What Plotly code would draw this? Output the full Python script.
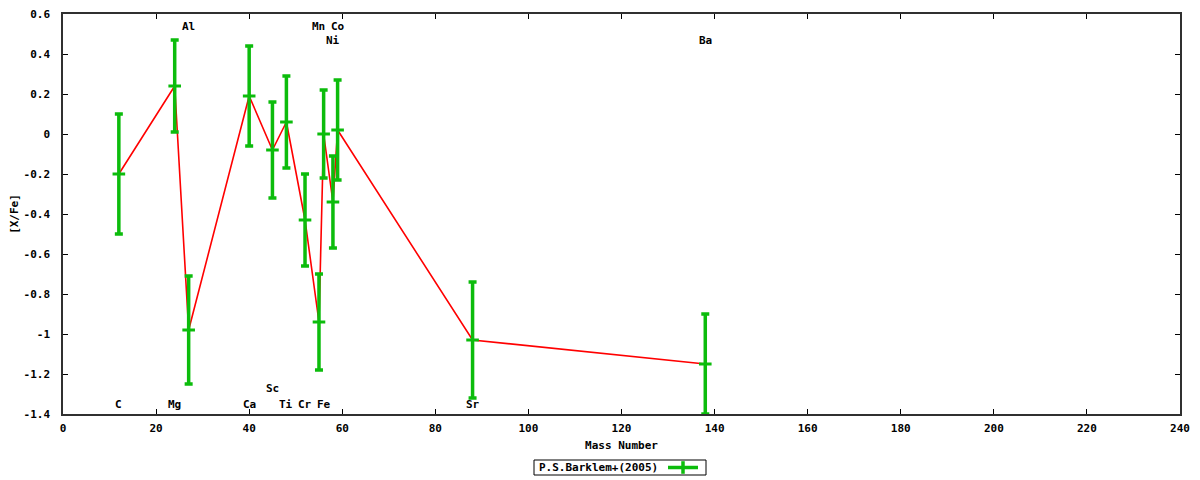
import plotly.graph_objects as go

# abundance ratios vs mass number
elements = ["C", "Mg", "Al", "Ca", "Sc", "Ti", "Cr", "Mn", "Fe", "Ni", "Co", "Sr", "Ba"]
mass = [12, 24, 27, 40, 45, 48, 52, 55, 56, 58, 59, 88, 138]
xfe = [-0.20, 0.24, -0.98, 0.19, -0.08, 0.06, -0.43, -0.94, 0.00, -0.34, 0.02, -1.03, -1.15]
err = [0.30, 0.23, 0.27, 0.25, 0.24, 0.23, 0.23, 0.24, 0.22, 0.23, 0.25, 0.29, 0.25]

# where the element names are written
label_y = [-1.35, -1.35, 0.54, -1.35, -1.27, -1.35, -1.35, 0.54, -1.35, 0.47, 0.54, -1.35, 0.47]

ytick_vals = [0.6, 0.4, 0.2, 0, -0.2, -0.4, -0.6, -0.8, -1, -1.2, -1.4]
ytick_text = ["0.6", "0.4", "0.2", "0", "-0.2", "-0.4", "-0.6", "-0.8", "-1", "-1.2", "-1.4"]
xtick_vals = list(range(0, 241, 20))

series_name = "P.S.Barklem+(2005)"

GREEN = "#0cbc0c"
FONT = "DejaVu Sans Mono"
txtfont = dict(family=FONT, size=11, color="black", weight="bold")

fig = go.Figure()

# red connecting line
fig.add_trace(go.Scatter(x=mass, y=xfe, mode="lines", line=dict(color="red", width=1.6),
                         showlegend=False, hoverinfo="skip"))

# error bars with a tick at the value
fig.add_trace(go.Scatter(
    x=mass, y=xfe, mode="markers",
    marker=dict(symbol="line-ew", size=9, line=dict(color=GREEN, width=3)),
    error_y=dict(type="data", array=err, color=GREEN, thickness=3.5, width=4),
    showlegend=False))

# legend sample
fig.add_trace(go.Scatter(
    x=[None], y=[None], mode="lines+markers", name="",
    line=dict(color=GREEN, width=3.5),
    marker=dict(symbol="line-ns", size=9, line=dict(color=GREEN, width=3.5))))

for el, mx, ly in zip(elements, mass, label_y):
    fig.add_annotation(x=mx, y=ly, text=el, showarrow=False, font=txtfont)

axis_common = dict(
    showgrid=False, zeroline=False, showline=True, linecolor="#303030", linewidth=1.5,
    mirror="ticks", ticks="inside", ticklen=5, tickcolor="black", tickfont=txtfont,
    ticklabeloverflow="allow",
)

fig.update_xaxes(range=[0, 240], tickvals=xtick_vals, ticklabelstandoff=3,
                 title=dict(text="Mass Number", font=txtfont, standoff=7),
                 **axis_common)
fig.update_yaxes(range=[-1.4, 0.6], tickvals=ytick_vals, ticktext=ytick_text, ticklabelstandoff=9,
                 title=dict(text="[X/Fe]", font=txtfont, standoff=9),
                 **axis_common)

# legend frame and its text
fig.add_shape(type="rect", xref="paper", yref="paper",
              x0=(534 - 63) / 1117, x1=(706 - 63) / 1117,
              y0=(414 - 460) / 400, y1=(414 - 475) / 400,
              line=dict(color="black", width=1), fillcolor="rgba(0,0,0,0)")
fig.add_annotation(xref="paper", yref="paper", x=(660 - 63) / 1117, y=(414 - 467.5) / 400,
                   xanchor="right", yanchor="middle", text=series_name,
                   showarrow=False, font=txtfont)

fig.update_layout(
    width=1192, height=472,
    margin=dict(l=55, r=20, t=6, b=66, autoexpand=False),
    plot_bgcolor="white", paper_bgcolor="white",
    font=txtfont,
    legend=dict(
        orientation="h", x=(663 - 63) / 1117, xanchor="left", y=(414 - 467.5) / 400, yanchor="middle",
        borderwidth=0, bgcolor="rgba(0,0,0,0)",
        itemwidth=30, tracegroupgap=0,
    ),
)

fig.write_html("out.html")
